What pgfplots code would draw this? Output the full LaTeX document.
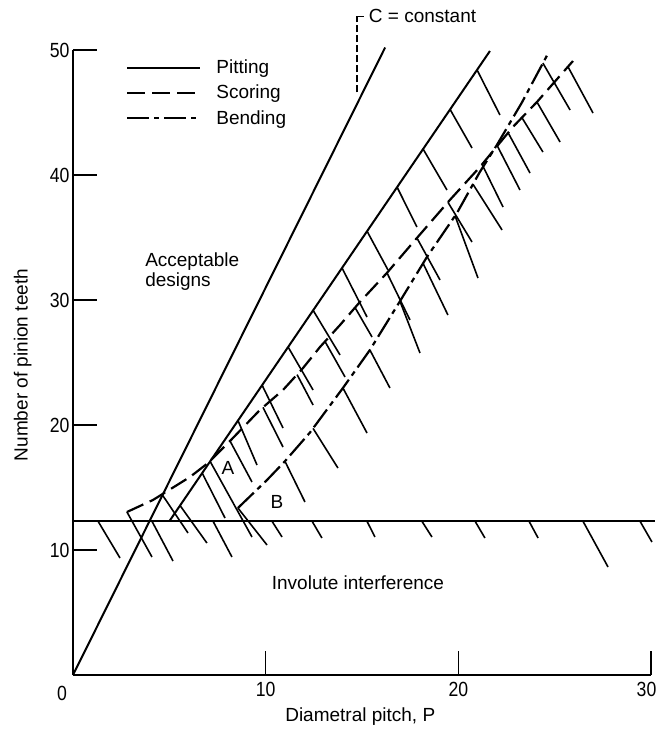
\documentclass[border=0pt]{standalone}
\usepackage{fontspec}
\setmainfont{Liberation Sans}
\newfontfamily\tickfamily{Liberation Sans}[FakeStretch=0.86]
\usepackage{pgfplots}
\pgfplotsset{compat=1.18}
\newcommand{\myfont}{\fontsize{19pt}{21pt}\selectfont}
\newcommand{\tickfont}{\tickfamily\fontsize{20.5pt}{22pt}\selectfont}

\begin{document}
\begin{tikzpicture}[font=\myfont]
\begin{axis}[
  name=ax,
  scale only axis, width=578pt, height=625pt,
  xmin=0, xmax=30, ymin=0, ymax=50,
  axis x line*=bottom, axis y line*=left,
  axis line style={-, line width=1.8pt},
  xtick={10,20,30}, ytick={10,20,30,40,50},
  xticklabels={10,20,\hspace*{-9pt}30},
  tick align=inside, major tick length=24pt,
  tick style={line width=1.5pt, black},
  /pgf/number format/assume math mode=true,
  xticklabel style={font=\tickfont, yshift=-4pt},
  yticklabel style={font=\tickfont},
  xlabel={Diametral pitch, P}, ylabel={Number of pinion teeth},
  x label style={at={(axis description cs:0.497,-0.067)}, anchor=center, font=\myfont},
  y label style={at={(axis description cs:-0.087,0.496)}, anchor=center, font=\myfont},
  clip=false,
  unbounded coords=jump,
  legend cell align=left,
  legend image code/.code={\draw[#1] (0pt,0pt) -- (73pt,0pt); \path (0pt,-4pt) (87pt,4pt);},
  legend style={draw=none, fill=none, at={(axis cs:2.75,49.3)}, anchor=north west,
    inner sep=0pt, row sep=8pt, font=\myfont, nodes={inner sep=1pt}},
]
% Pitting (C = constant)
\addplot[black, line width=2pt] coordinates {(0,0) (16.2,50.2)};
\addlegendentry{Pitting}
% Scoring
\addplot[black, line width=2.2pt, dash pattern=on 18pt off 7pt] coordinates {
(2.80,13.04) (4.15,14.0) (6.07,15.84) (7.01,16.96) (8.15,18.72) (9.70,21.2)
(10.90,22.8) (11.94,24.56) (12.82,26.24) (13.86,28.0) (14.89,29.84) (16.29,32.16)
(17.85,34.96) (19.56,38.0) (21.12,40.64) (22.83,43.84) (24.08,45.84) (25.95,49.12)};
\addlegendentry{Scoring}
% Bending
\addplot[black, line width=2.2pt, dash pattern=on 22pt off 5pt on 5pt off 5pt] coordinates {
(8.56,13.36) (10.07,15.6) (11.0,17.1) (12.3,19.4) (14.01,22.96) (15.41,26.0)
(16.97,29.9) (18.37,33.44) (19.93,36.96) (21.1,40.2) (22.0,42.4) (23.3,45.8) (24.65,49.7)};
\addlegendentry{Bending}
% second pitting line
\addplot[black, line width=2pt, forget plot] coordinates {(5.0,12.3) (21.64,49.92)};
% involute interference limit
\addplot[black, line width=2.2pt, forget plot] coordinates {(0,12.3) (30.2,12.3)};
% hatches: pitting
\addplot[black, line width=1.6pt, forget plot] coordinates {
(20.97,48.41) (22.16,44.8) (0,nan)
(19.57,45.25) (20.71,42.16) (0,nan)
(18.17,42.08) (19.41,38.8) (0,nan)
(16.82,39.03) (17.85,35.84) (0,nan)
(15.26,35.51) (16.35,32.4) (0,nan)
(13.96,32.57) (15.26,28.64) (0,nan)
(12.46,29.18) (13.86,25.6) (0,nan)
(11.16,26.25) (12.46,22.8) (0,nan)
(9.81,23.2) (10.90,19.76) (0,nan)
(8.56,20.37) (9.55,16.8) (0,nan)
(6.70,16.17) (7.89,12.56) (0,nan)
(5.55,13.57) (6.95,10.56)};
% hatches: scoring
\addplot[black, line width=1.6pt, forget plot] coordinates {
(2.80,13.04) (4.10,9.44) (0,nan)
(4.62,14.45) (5.97,11.36) (0,nan)
(7.11,17.11) (9.29,11.04) (0,nan)
(8.15,18.72) (9.29,15.44) (0,nan)
(9.86,21.41) (10.90,18.24) (0,nan)
(11.63,24.03) (12.46,21.6) (0,nan)
(13.08,26.68) (14.12,23.84) (0,nan)
(14.64,29.39) (15.52,27.04) (0,nan)
(16.30,32.16) (17.49,28.4) (0,nan)
(17.85,34.96) (19.05,31.6) (0,nan)
(19.46,37.82) (20.71,34.64) (0,nan)
(21.23,40.85) (22.32,37.44) (0,nan)
(22.58,43.39) (23.72,40.16) (0,nan)
(23.30,44.59) (24.39,41.84) (0,nan)
(24.08,45.84) (25.28,42.64) (0,nan)
(25.69,48.66) (26.99,44.96)};
% hatches: bending
\addplot[black, line width=1.6pt, forget plot] coordinates {
(8.56,13.36) (10.07,10.4) (0,nan)
(11.00,17.1) (12.04,13.84) (0,nan)
(12.46,19.73) (13.75,16.56) (0,nan)
(14.01,22.96) (15.26,19.36) (0,nan)
(15.41,26.0) (16.45,22.96) (0,nan)
(16.97,29.9) (18.01,25.76) (0,nan)
(18.17,32.93) (19.46,28.8) (0,nan)
(19.83,36.73) (21.02,31.76) (0,nan)
(20.76,39.26) (22.27,35.6) (0,nan)
(22.0,42.4) (23.20,38.8) (0,nan)
(24.39,48.95) (25.80,45.2)};
% hatches: involute interference
\addplot[black, line width=1.6pt, forget plot] coordinates {
(1.30,12.3) (2.44,9.36) (0,nan)
(4.10,12.3) (5.19,9.12) (0,nan)
(7.27,12.3) (8.25,9.44) (0,nan)
(10.33,12.3) (10.85,11.04) (0,nan)
(12.41,12.3) (12.92,10.96) (0,nan)
(15.26,12.3) (15.67,11.04) (0,nan)
(18.11,12.3) (18.63,11.04) (0,nan)
(20.87,12.3) (21.38,10.96) (0,nan)
(23.67,12.3) (24.14,10.96) (0,nan)
(26.47,12.3) (27.77,8.64) (0,nan)
(29.43,12.3) (30.05,10.64)};
% C = constant leader
\addplot[black, line width=1.4pt, dash pattern=on 7pt off 3pt, forget plot] coordinates {(14.74,46.6) (14.74,52.7)};
\addplot[black, line width=1.4pt, forget plot] coordinates {(14.74,52.7) (15.1,52.7)};
\node[anchor=west, inner sep=0pt] at (axis cs:15.35,52.7) {C = constant};
\node[anchor=north west, align=left, inner sep=0pt, font=\fontsize{19pt}{20pt}\selectfont] at (axis cs:3.74,33.8) {Acceptable\\designs};
\node[anchor=center, inner sep=0pt] at (axis cs:14.79,7.36) {Involute interference};
\node[anchor=center, inner sep=0pt] at (axis cs:8.04,16.56) {A};
\node[anchor=center, inner sep=0pt] at (axis cs:10.59,13.84) {B};
\node[anchor=center, inner sep=0pt, xshift=-11pt, yshift=-18pt, font=\tickfont] at (axis cs:0,0) {0};
\end{axis}
\pgfresetboundingbox
\path ([xshift=-73pt,yshift=-56pt]ax.south west) rectangle ([xshift=6pt,yshift=50pt]ax.north east);
\end{tikzpicture}
\end{document}
